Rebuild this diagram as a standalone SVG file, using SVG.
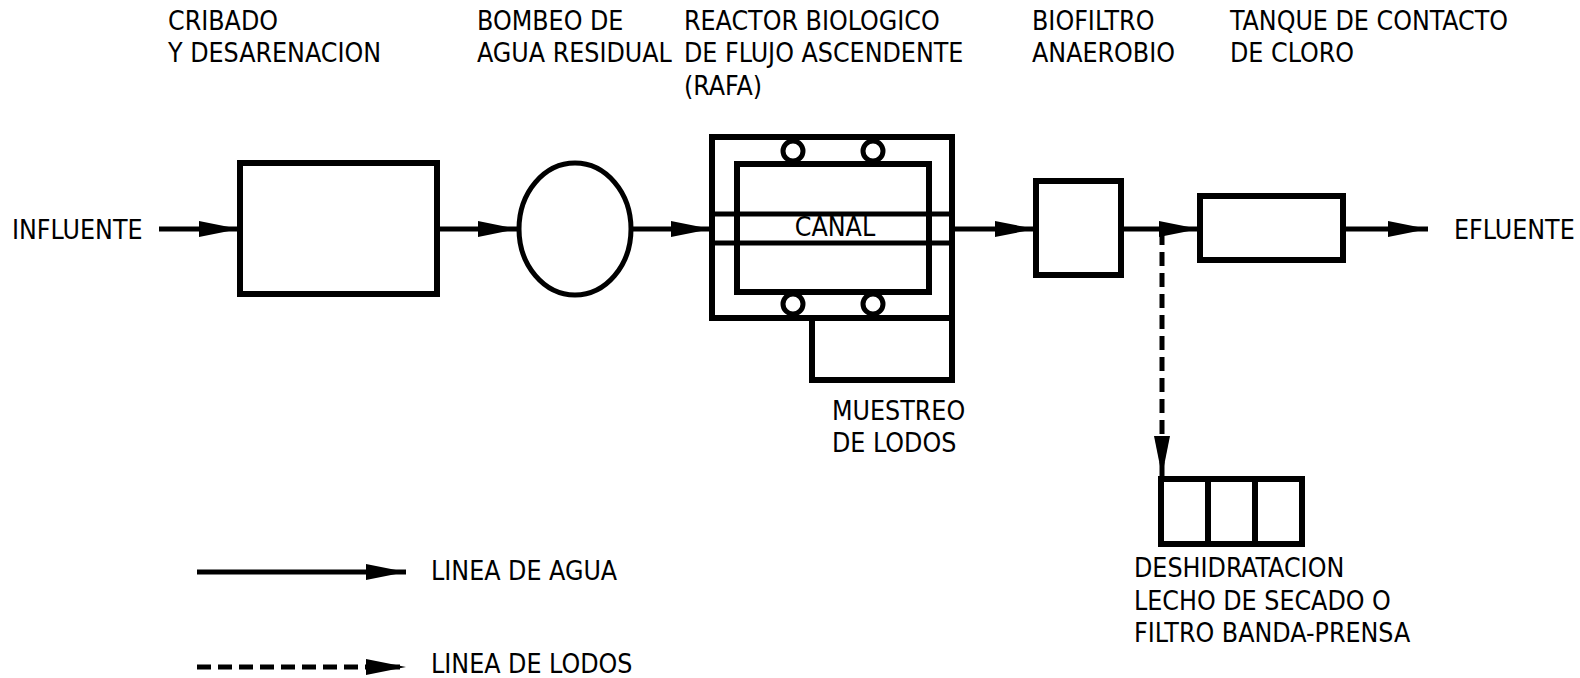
<svg xmlns="http://www.w3.org/2000/svg" width="1580" height="678" viewBox="0 0 1580 678">
<style>
text{font-family:"Liberation Sans Narrow","DejaVu Sans Condensed","Liberation Sans",sans-serif;font-size:26.5px;fill:#000}
.box{fill:none;stroke:#000;stroke-width:6}
.ln{fill:none;stroke:#000;stroke-width:5}
.dash{fill:none;stroke:#000;stroke-width:5;stroke-dasharray:14 7}
</style>
<defs>
<marker id="ah" markerUnits="userSpaceOnUse" markerWidth="42" markerHeight="18" refX="40" refY="8" orient="auto">
<path d="M0,0 L40,8 L0,16 z" fill="#000"/>
</marker>
</defs>
<rect width="1580" height="678" fill="#fff"/>
<g id="influente"><text x="12" y="239">INFLUENTE</text></g>
<g id="cribado">
<rect class="box" x="240" y="163" width="197" height="131"/>
<text x="168" y="30">CRIBADO</text>
<text x="168" y="62">Y DESARENACION</text>
</g>
<g id="bombeo">
<ellipse class="ln" cx="575" cy="229" rx="56" ry="66"/>
<text x="477" y="30">BOMBEO DE</text>
<text x="477" y="62">AGUA RESIDUAL</text>
</g>
<g id="reactor">
<rect class="box" x="712" y="137" width="240" height="181"/>
<rect class="box" x="737" y="164" width="192" height="128"/>
<line class="ln" x1="712" y1="214" x2="952" y2="214"/>
<line class="ln" x1="712" y1="243" x2="952" y2="243"/>
<circle cx="793" cy="151" r="10" fill="#fff" stroke="#000" stroke-width="5"/>
<circle cx="873" cy="151" r="10" fill="#fff" stroke="#000" stroke-width="5"/>
<circle cx="793" cy="304" r="10" fill="#fff" stroke="#000" stroke-width="5"/>
<circle cx="873" cy="304" r="10" fill="#fff" stroke="#000" stroke-width="5"/>
<text x="835" y="236" text-anchor="middle">CANAL</text>
<text x="684" y="30">REACTOR BIOLOGICO</text>
<text x="684" y="62">DE FLUJO ASCENDENTE</text>
<text x="684" y="95">(RAFA)</text>
</g>
<g id="muestreo">
<rect class="box" x="812" y="318" width="140" height="62"/>
<text x="832" y="420">MUESTREO</text>
<text x="832" y="452">DE LODOS</text>
</g>
<g id="biofiltro">
<rect class="box" x="1036" y="181" width="85" height="94"/>
<text x="1032" y="30">BIOFILTRO</text>
<text x="1032" y="62">ANAEROBIO</text>
</g>
<g id="tanque">
<rect class="box" x="1200" y="196" width="143" height="64"/>
<text x="1230" y="30">TANQUE DE CONTACTO</text>
<text x="1230" y="62">DE CLORO</text>
</g>
<g id="efluente"><text x="1454" y="239">EFLUENTE</text></g>
<g id="deshidratacion">
<rect class="box" x="1161" y="479" width="141" height="65"/>
<line class="box" x1="1208" y1="479" x2="1208" y2="544"/>
<line class="box" x1="1255" y1="479" x2="1255" y2="544"/>
<text x="1134" y="577">DESHIDRATACION</text>
<text x="1134" y="610">LECHO DE SECADO O</text>
<text x="1134" y="642">FILTRO BANDA-PRENSA</text>
</g>
<g id="connectors">
<line class="ln" x1="159" y1="229" x2="239" y2="229" marker-end="url(#ah)"/>
<line class="ln" x1="437" y1="229" x2="518" y2="229" marker-end="url(#ah)"/>
<line class="ln" x1="631" y1="229" x2="711" y2="229" marker-end="url(#ah)"/>
<line class="ln" x1="952" y1="229" x2="1035" y2="229" marker-end="url(#ah)"/>
<line class="ln" x1="1121" y1="229" x2="1199" y2="229" marker-end="url(#ah)"/>
<line class="ln" x1="1343" y1="229" x2="1428" y2="229" marker-end="url(#ah)"/>
<line class="dash" x1="1162" y1="231" x2="1162" y2="476" marker-end="url(#ah)"/>
</g>
<g id="legend">
<line class="ln" x1="197" y1="572" x2="406" y2="572" marker-end="url(#ah)"/>
<text x="431" y="580">LINEA DE AGUA</text>
<line class="dash" x1="197" y1="667" x2="406" y2="667" marker-end="url(#ah)"/>
<text x="431" y="673">LINEA DE LODOS</text>
</g>
</svg>
